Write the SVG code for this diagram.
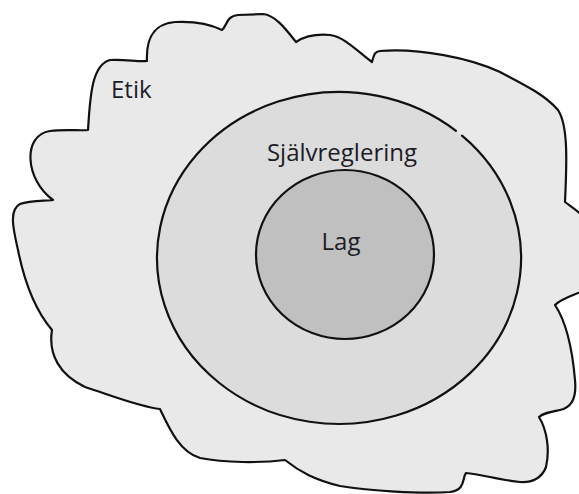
<svg xmlns="http://www.w3.org/2000/svg" width="579" height="494" viewBox="0 0 579 494">
<style>
.outline{stroke:#111;stroke-width:2.2;stroke-linejoin:round;stroke-linecap:round}
.lbl{font-family:"Open Sans","Noto Sans",sans-serif;font-size:24px;fill:#1c1c28}
</style>
<rect width="579" height="494" fill="#fff"/>
<g id="etik">
<path class="outline" fill="#e9e9e9" d="M53,200 C25,180 22,135 50,131 C65,129 80,131 88,130 C90,100 91,65 110,60 C125,59 138,62 147,61 C146,40 152,24 175,22 C195,21 212,25 222,30 C227,26 226,16 238,15 L263,14 C275,15 285,28 296,42 C305,36 318,34 330,35 C345,37 358,52 372,62 C374,55 374,52 380,51 C420,48 470,58 500,72 C525,85 545,95 558,110 C568,125 567,160 565,202 C570,206 578,211 585,218 L585,290 C575,295 562,298 555,305 C565,320 572,345 575,380 C577,400 570,408 560,410 C550,412 543,413 539,417 C547,430 550,450 546,467 C542,478 532,483 520,482 C500,480 480,474 466,473 C462,478 466,490 450,492 C420,494 370,491 340,486 C315,480 300,472 285,460 C260,463 225,463 200,458 C180,452 170,430 160,409 C140,407 110,395 85,387 C60,375 48,355 52,330 C35,310 25,285 18,250 C14,232 8,210 20,204 C30,200 45,201 53,200 Z"/>
<text class="lbl" x="111" y="98">Etik</text>
</g>
<g id="sjalvreglering">
<ellipse cx="339" cy="258" rx="182" ry="166" fill="#dcdcdc"/>
<path class="outline" fill="none" d="M462,135.6 A182,166 0 1 1 456,130.8"/>
<text class="lbl" x="342" y="161" text-anchor="middle">Självreglering</text>
</g>
<g id="lag">
<ellipse class="outline" cx="345" cy="254.5" rx="89" ry="84.5" fill="#c0c0c0"/>
<text class="lbl" x="341" y="250" text-anchor="middle">Lag</text>
</g>
<g id="connectors"/>
</svg>
